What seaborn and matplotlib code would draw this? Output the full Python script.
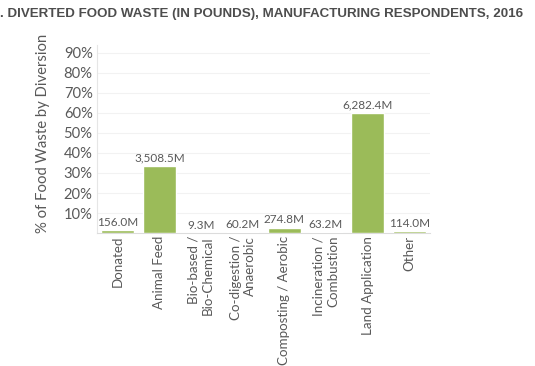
import numpy as np
import pandas as pd
import matplotlib
matplotlib.use("Agg")
import matplotlib.pyplot as plt
import seaborn as sns

categories = [
    "Donated", "Animal Feed", "Bio-based /\nBio-Chemical", "Co-digestion /\nAnaerobic",
    "Composting / Aerobic", "Incineration /\nCombustion", "Land Application", "Other",
]
pounds_m = [156.0, 3508.5, 9.3, 60.2, 274.8, 63.2, 6282.4, 114.0]
y_ticks = [10, 20, 30, 40, 50, 60, 70, 80, 90]

title = ". DIVERTED FOOD WASTE (IN POUNDS), MANUFACTURING RESPONDENTS, 2016"
y_label = "% of Food Waste by Diversion"

df = pd.DataFrame({"cat": categories, "lbs": pounds_m})
df["pct"] = df["lbs"] / df["lbs"].sum() * 100

sns.set_style("white")
plt.rcParams["font.family"] = ["Lato", "DejaVu Sans"]
GREY = "#595959"

fig = plt.figure(figsize=(5.35, 3.66), dpi=100)
ax = fig.add_axes([0.181, 0.363, 0.623, 0.515])

sns.barplot(data=df, x="cat", y="pct", color="#9BBB59", width=0.8,
            saturation=1, ax=ax, zorder=3)

for i, (p, v) in enumerate(zip(df["pct"], df["lbs"])):
    ax.text(i, p + 1.2, f"{v:,.1f}M", ha="center", va="bottom",
            fontsize=8.5, color=GREY)

ax.set_ylim(0, 94)
ax.set_xlim(-0.5, len(categories) - 0.5)
ax.set_yticks(y_ticks)
ax.set_yticklabels([f"{t}%" for t in y_ticks], fontsize=10.6, color=GREY)
ax.yaxis.grid(True, color="#f2f2f2", lw=0.8)
ax.set_axisbelow(True)
ax.tick_params(axis="y", length=0, pad=3)

ax.set_xticks(range(len(categories)))
ax.set_xticklabels(categories, rotation=90, fontsize=9.6, color=GREY,
                   ha="center", va="top", multialignment="right")
ax.set_xticks(np.arange(-0.5, len(categories), 1), minor=True)
ax.tick_params(axis="x", which="major", length=0, pad=2)
ax.tick_params(axis="x", which="minor", length=6, color="#e0e0e0", width=0.8)

for s in ["top", "right"]:
    ax.spines[s].set_visible(False)
ax.spines["left"].set_color("#e6e6e6")
ax.spines["bottom"].set_color("#dcdcdc")

ax.set_xlabel("")
ax.set_ylabel(y_label, fontsize=10.7, color=GREY)
ax.yaxis.set_label_coords(-0.14, 0.53)

fig.text(0.0, 0.962, title, fontsize=9.6, fontweight="bold", color="#4d4d4d",
         family=["Liberation Sans", "DejaVu Sans"], ha="left", va="center")

fig.savefig("out.png", dpi=100)
